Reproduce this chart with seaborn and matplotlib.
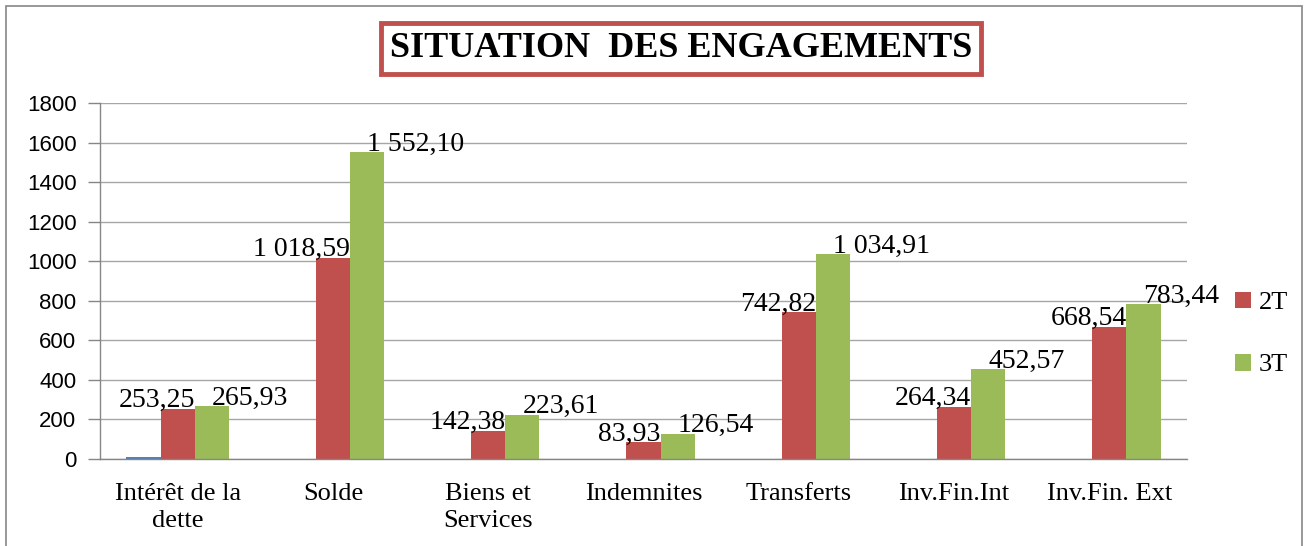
import matplotlib
matplotlib.use("Agg")
import matplotlib.pyplot as plt
import seaborn as sns
import pandas as pd
from matplotlib.patches import Rectangle

categories = ["Intérêt de la\ndette", "Solde", "Biens et\nServices", "Indemnites",
              "Transferts", "Inv.Fin.Int", "Inv.Fin. Ext"]
serie_1t = [12, 0, 0, 0, 0, 0, 0]
serie_2t = [253.25, 1018.59, 142.38, 83.93, 742.82, 264.34, 668.54]
serie_3t = [265.93, 1552.10, 223.61, 126.54, 1034.91, 452.57, 783.44]
series = ["1T", "2T", "3T"]
colors = ["#4F81BD", "#C0504D", "#9BBB59"]
y_ticks = [0, 200, 400, 600, 800, 1000, 1200, 1400, 1600, 1800]

df = pd.DataFrame({
    "cat": categories * 3,
    "serie": ["1T"] * 7 + ["2T"] * 7 + ["3T"] * 7,
    "val": serie_1t + serie_2t + serie_3t,
})


def fmt(v):
    s = f"{v:,.2f}"
    return s.replace(",", " ").replace(".", ",")


sns.set_style("white")
plt.rcParams["font.family"] = ["Liberation Serif", "DejaVu Serif"]
plt.rcParams["text.color"] = "black"
plt.rcParams["xtick.color"] = "black"
plt.rcParams["ytick.color"] = "black"

fig = plt.figure(figsize=(13.05, 5.46), dpi=100)
ax = fig.add_axes([100 / 1305, 1 - 459 / 546, 1087 / 1305, 356 / 546])

sns.barplot(data=df, x="cat", y="val", hue="serie", hue_order=series,
            palette=colors, saturation=1, width=0.66, linewidth=0, ax=ax)

ax.set_ylim(0, 1800)
ax.set_xlim(-0.5, 6.5)
ax.set_yticks(y_ticks)
ax.set_yticklabels([str(t) for t in y_ticks], family="Liberation Sans", fontsize=16)
ax.set_xticks(range(7))
ax.set_xticklabels(categories, fontsize=19, linespacing=1.3)
ax.set_xticks([i - 0.5 for i in range(8)], minor=True)
ax.tick_params(axis="x", which="major", length=0, pad=17)
ax.tick_params(axis="x", which="minor", length=8, color="#868686", width=1)
ax.tick_params(axis="y", length=9, color="#868686", labelcolor="black", width=1, pad=8, left=True)
ax.set_xlabel("")
ax.set_ylabel("")
ax.yaxis.grid(True, color="#A6A6A6", linewidth=1)
ax.set_axisbelow(True)
for s in ["top", "right"]:
    ax.spines[s].set_visible(False)
for s in ["left", "bottom"]:
    ax.spines[s].set_color("#868686")
    ax.spines[s].set_linewidth(1)

# data labels: 2T right of text at bar right edge, 3T starts at bar center
for bar, v in zip(ax.containers[1], serie_2t):
    ax.text(bar.get_x() + bar.get_width(), bar.get_height() + 8, fmt(v),
            ha="right", va="baseline", fontsize=20)
for bar, v in zip(ax.containers[2], serie_3t):
    ax.text(bar.get_x() + bar.get_width() / 2, bar.get_height() + 8, fmt(v),
            ha="left", va="baseline", fontsize=20)

handles, labels = ax.get_legend_handles_labels()
ax.legend(handles[1:], labels[1:], loc="center left",
          bbox_to_anchor=(1235 / 1305, 1 - 334 / 546), bbox_transform=fig.transFigure,
          frameon=False, fontsize=19, handlelength=0.6, handleheight=0.6,
          handletextpad=0.3, labelspacing=1.5, borderpad=0, borderaxespad=0)

fig.text(0.522, 1 - 48.5 / 546, "SITUATION  DES ENGAGEMENTS", ha="center", va="center",
         fontsize=26, fontweight="bold", color="black",
         bbox=dict(boxstyle="square,pad=0.24", facecolor="white",
                   edgecolor="#C0504D", linewidth=3.5))

fig.patches.append(Rectangle((6 / 1305, -0.01), 1296 / 1305, 1 - 6 / 546 + 0.01,
                             transform=fig.transFigure,
                             fill=False, edgecolor="#868686", linewidth=1.2))

fig.savefig("out.png", dpi=100)
